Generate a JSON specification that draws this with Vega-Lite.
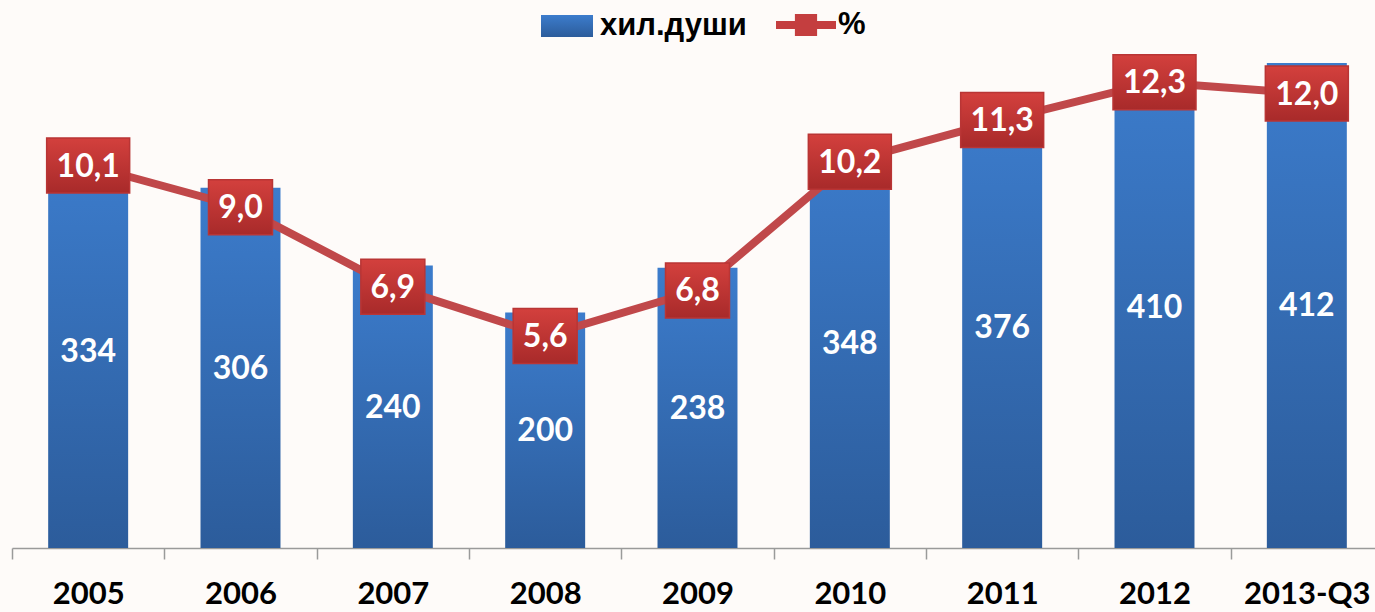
{
  "$schema": "https://vega.github.io/schema/vega-lite/v6.json",
  "width": 1363,
  "height": 498,
  "autosize": "none",
  "padding": {"left": 12, "top": 50, "right": 0, "bottom": 64},
  "background": "#FEFBF9",
  "config": {
    "view": {"stroke": null},
    "locale": {"number": {"decimal": ",", "thousands": " ", "grouping": [3], "currency": ["", ""]}}
  },
  "data": {
    "values": [
      {"year": "2005", "v": 334, "p": 10.1},
      {"year": "2006", "v": 306, "p": 9.0},
      {"year": "2007", "v": 240, "p": 6.9},
      {"year": "2008", "v": 200, "p": 5.6},
      {"year": "2009", "v": 238, "p": 6.8},
      {"year": "2010", "v": 348, "p": 10.2},
      {"year": "2011", "v": 376, "p": 11.3},
      {"year": "2012", "v": 410, "p": 12.3},
      {"year": "2013-Q3", "v": 412, "p": 12.0}
    ]
  },
  "encoding": {
    "x": {
      "field": "year",
      "type": "nominal",
      "sort": null,
      "scale": {"paddingInner": 0, "paddingOuter": 0, "range": [0, 1371]},
      "axis": {
        "title": null,
        "labelAngle": 0,
        "labelFont": "Lato",
        "labelFontSize": 31,
        "labelFontWeight": "bold",
        "labelColor": "#000000",
        "labelPadding": 20,
        "labelOverlap": false,
        "domainColor": "#9A9A9A",
        "domainWidth": 1.5,
        "tickColor": "#9A9A9A",
        "tickWidth": 1.5,
        "tickSize": 11,
        "tickBand": "extent",
        "grid": false
      }
    }
  },
  "layer": [
    {
      "mark": {
        "type": "bar",
        "width": {"band": 0.525},
        "fill": {"gradient": "linear", "x1": 0, "y1": 0, "x2": 0, "y2": 1,
          "stops": [{"offset": 0, "color": "#3C7CCC"}, {"offset": 1, "color": "#2C5C9B"}]}
      },
      "encoding": {
        "y": {"field": "v", "type": "quantitative", "scale": {"domain": [0, 423]}, "axis": null},
        "opacity": {
          "datum": "хил.души",
          "type": "nominal",
          "scale": {"range": [1]},
          "legend": {
            "orient": "none",
            "legendX": 528,
            "legendY": -51,
            "title": null,
            "padding": 0,
            "symbolType": "M-1,-0.42H1V0.42H-1Z",
            "symbolSize": 2704,
            "labelFont": "Liberation Sans",
            "labelFontSize": 31,
            "labelFontWeight": "bold",
            "labelColor": "#000000",
            "labelOffset": 6,
            "encode": {"symbols": {"update": {
              "fill": {"value": {"gradient": "linear", "x1": 0, "y1": 0, "x2": 0, "y2": 1,
                "stops": [{"offset": 0, "color": "#3C7CCC"}, {"offset": 1, "color": "#2C5C9B"}]}},
              "opacity": {"value": 1},
              "strokeWidth": {"value": 0}
            }}}
          }
        }
      }
    },
    {
      "mark": {"type": "line", "strokeWidth": 8},
      "encoding": {
        "y": {"field": "p", "type": "quantitative", "scale": {"domain": [0, 13.15]}, "axis": null},
        "color": {
          "datum": "%",
          "type": "nominal",
          "scale": {"range": ["#C0484A"]},
          "legend": {
            "orient": "none",
            "legendX": 764,
            "legendY": -55,
            "title": null,
            "padding": 0,
            "symbolType": "M-1,-0.13H-0.37V-0.37H0.37V-0.13H1V0.13H0.37V0.37H-0.37V0.13H-1Z",
            "symbolSize": 3600,
            "labelFont": "Liberation Sans",
            "labelFontSize": 31,
            "labelFontWeight": "bold",
            "labelColor": "#000000",
            "labelOffset": 2,
            "encode": {"symbols": {"update": {
              "fill": {"value": "#C43E3F"},
              "opacity": {"value": 1},
              "strokeWidth": {"value": 0}
            }}}
          }
        }
      }
    },
    {
      "mark": {
        "type": "point",
        "filled": true,
        "size": 6889,
        "opacity": 1,
        "fill": {"gradient": "linear", "x1": 0, "y1": 0, "x2": 0, "y2": 1,
          "stops": [{"offset": 0, "color": "#D3403D"}, {"offset": 1, "color": "#A82A2A"}]},
        "stroke": "#B93535",
        "strokeWidth": 1.5
      },
      "encoding": {
        "y": {"field": "p", "type": "quantitative", "scale": {"domain": [0, 13.15]}, "axis": null},
        "shape": {
          "condition": {"test": "datum.p >= 10", "value": "M-1,-0.663H1V0.663H-1Z"},
          "value": "M-0.771,-0.663H0.771V0.663H-0.771Z"
        }
      }
    },
    {
      "mark": {"type": "text", "font": "Lato", "fontSize": 32, "fontWeight": "bold", "color": "#FFFFFF", "baseline": "middle", "dy": 1},
      "encoding": {
        "y": {"field": "p", "type": "quantitative", "scale": {"domain": [0, 13.15]}, "axis": null},
        "text": {"field": "p", "type": "quantitative", "format": ".1f"}
      }
    },
    {
      "mark": {"type": "text", "font": "Lato", "fontSize": 32, "fontWeight": "bold", "color": "#FFFFFF", "baseline": "middle", "dy": 1},
      "encoding": {
        "y": {"field": "v", "type": "quantitative", "scale": {"domain": [0, 846]}, "axis": null},
        "text": {"field": "v", "type": "quantitative"}
      }
    }
  ],
  "resolve": {"scale": {"y": "independent"}}
}
